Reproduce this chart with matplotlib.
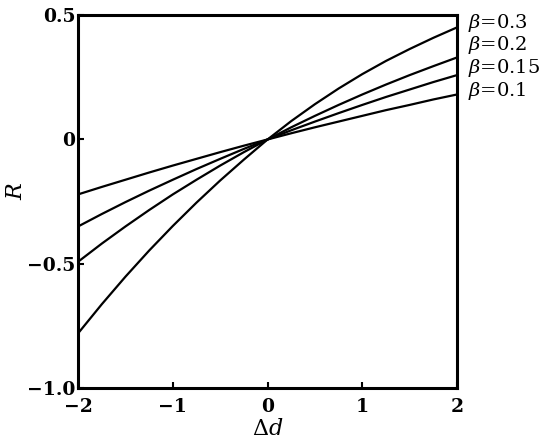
import matplotlib
matplotlib.use('Agg')
import matplotlib.pyplot as plt

plt.rcParams['font.family'] = ['DejaVu Serif']
plt.rcParams['mathtext.fontset'] = 'dejavuserif'
plt.rcParams['axes.unicode_minus'] = True

# values
dd = [-2.0, -1.75, -1.5, -1.25, -1.0, -0.75, -0.5, -0.25, 0.0,
      0.25, 0.5, 0.75, 1.0, 1.25, 1.5, 1.75, 2.0]
r_b03 = [-0.78, -0.663, -0.552, -0.447, -0.348, -0.254, -0.165, -0.081, 0.0,
         0.074, 0.142, 0.205, 0.263, 0.316, 0.364, 0.409, 0.451]
r_b02 = [-0.492, -0.419, -0.35, -0.284, -0.221, -0.162, -0.105, -0.051, 0.0,
         0.049, 0.095, 0.139, 0.181, 0.221, 0.259, 0.295, 0.33]
r_b015 = [-0.35, -0.3, -0.252, -0.206, -0.162, -0.119, -0.078, -0.038, 0.0,
          0.037, 0.072, 0.106, 0.139, 0.171, 0.201, 0.231, 0.259]
r_b01 = [-0.221, -0.191, -0.162, -0.133, -0.105, -0.078, -0.051, -0.025, 0.0,
         0.025, 0.049, 0.072, 0.095, 0.118, 0.139, 0.161, 0.181]
betas = ['0.3', '0.2', '0.15', '0.1']
label_y = [0.469, 0.38, 0.286, 0.197]

fig = plt.figure(figsize=(5.5, 4.47), dpi=100)
ax = fig.add_axes([0.142, 0.132, 0.689, 0.834])

for r in [r_b03, r_b02, r_b015, r_b01]:
    ax.plot(dd, r, color='black', linewidth=1.6)

for b, ly in zip(betas, label_y):
    ax.text(2.116, ly, r'$\beta$=' + b, fontsize=14, va='center', ha='left',
            clip_on=False)

ax.set_xlim(-2, 2)
ax.set_ylim(-1.0, 0.5)
ax.set_xticks([-2, -1, 0, 1, 2])
ax.set_xticklabels(['\u22122', '\u22121', '0', '1', '2'])
ax.set_yticks([-1.0, -0.5, 0, 0.5])
ax.set_yticklabels(['\u22121.0', '\u22120.5', '0', '0.5'])
ax.tick_params(direction='in', length=4, width=1.5, labelsize=13.5)
ax.tick_params(axis='x', pad=7)
ax.tick_params(axis='y', pad=2)
for lab in ax.get_xticklabels() + ax.get_yticklabels():
    lab.set_fontweight('bold')
for s in ax.spines.values():
    s.set_linewidth(2.2)

ax.set_xlabel(r'$\Delta d$', fontsize=16, labelpad=2)
ax.set_ylabel(r'$R$', fontsize=16)
ax.yaxis.set_label_coords(-0.135, 0.528)

fig.savefig('out.png', dpi=100)
